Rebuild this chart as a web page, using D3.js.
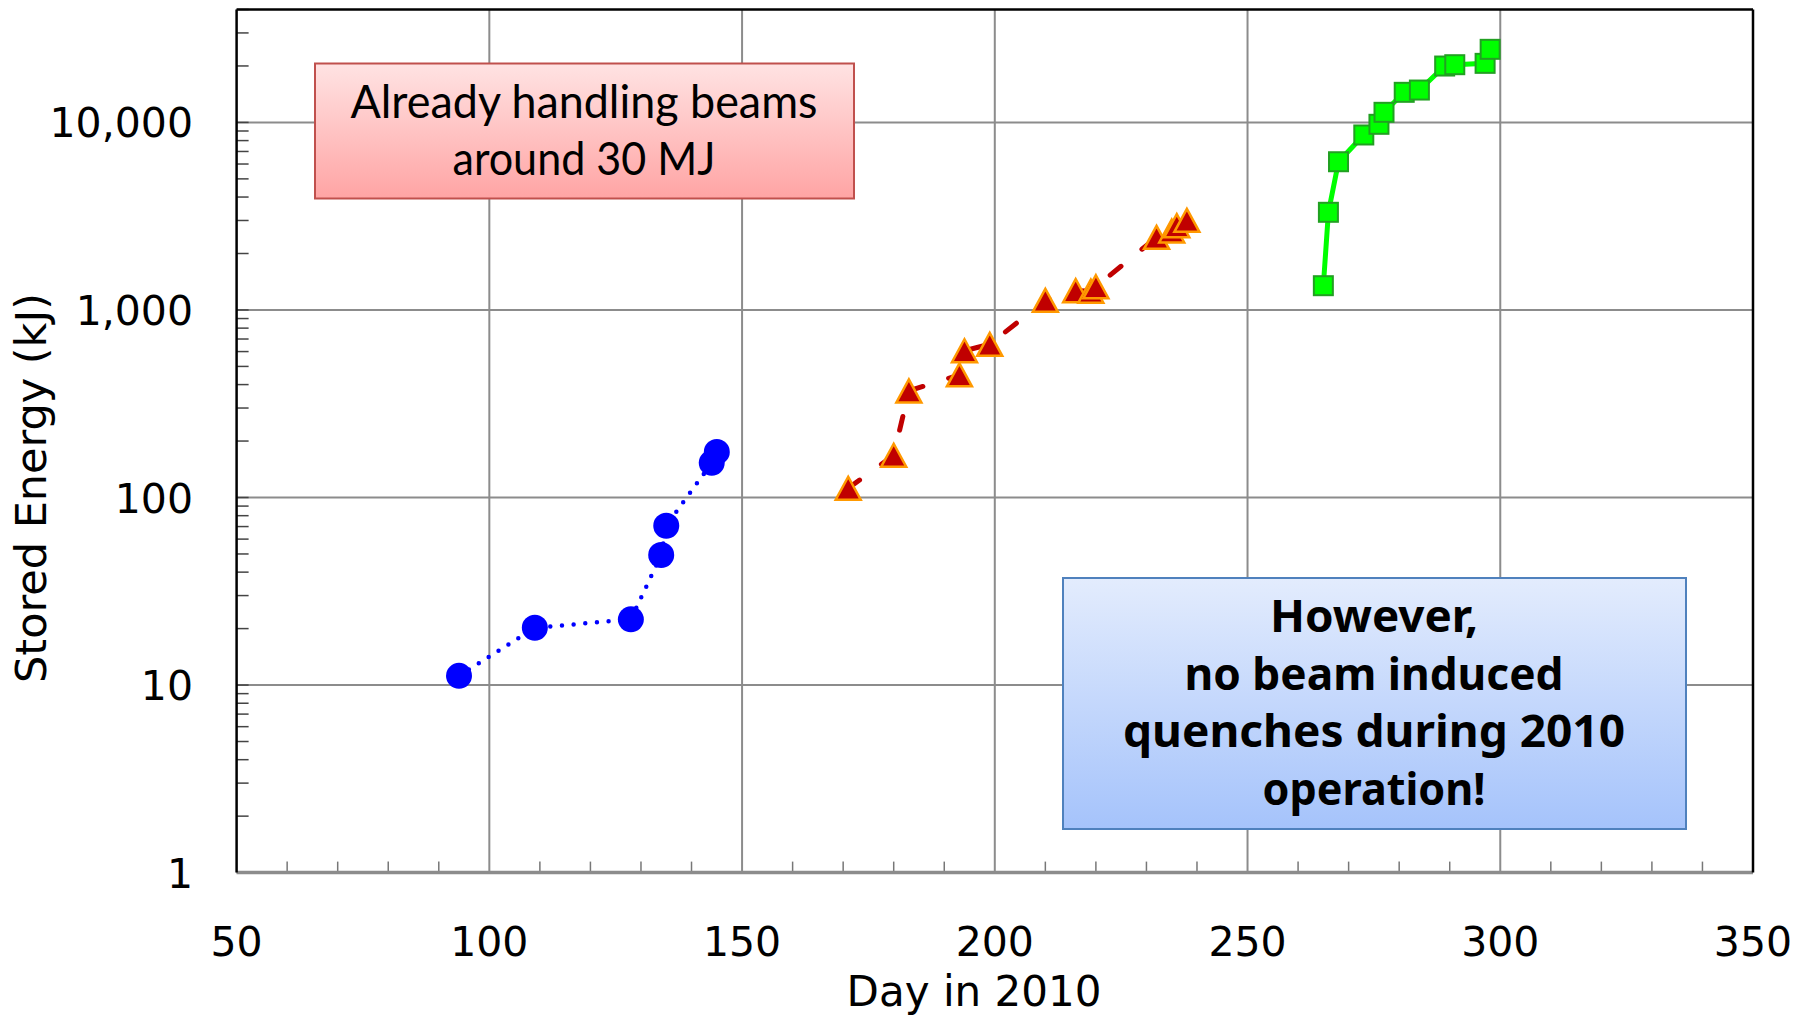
<!DOCTYPE html>
<html>
<head>
<meta charset="utf-8">
<script src="https://cdn.jsdelivr.net/npm/d3@7"></script>
<style>
  html, body { margin: 0; padding: 0; background: #fff; }
  svg { display: block; }
</style>
</head>
<body>
<svg id="chart" width="1810" height="1017"></svg>
<script>
// Stored beam energy per fill, by run period (day of year 2010, kJ)
const springDays   = [94, 109, 128, 134, 135, 144, 145];
const springEnergy = [11.2, 20.2, 22.4, 49.4, 70.7, 153, 175];

const summerDays   = [171, 180, 183, 193, 194, 199, 210, 216, 219, 220, 232, 235, 236, 238];
const summerEnergy = [112, 168, 370, 451, 606, 656, 1126, 1267, 1260, 1330, 2440, 2636, 2814, 3006];

const autumnDays   = [265, 266, 268, 273, 276, 277, 281, 284, 289, 291, 297, 298];
const autumnEnergy = [1347, 3317, 6170, 8570, 9770, 11320, 14470, 14880, 19980, 20310, 20650, 24530];

const xTicks = [50, 100, 150, 200, 250, 300, 350];
const yTicks = [1, 10, 100, 1000, 10000];
const yTickLabels = ["1", "10", "100", "1,000", "10,000"];

const noteTop = ["Already handling beams", "around 30 MJ"];
const noteBottom = ["However,", "no beam induced", "quenches during 2010", "operation!"];

const svg = d3.select("#chart");
const L = 236.6, R = 1753, T = 9.5, B = 872.6;

const x = d3.scaleLinear().domain([50, 350]).range([L, R]);
const y = d3.scaleLog().domain([1, 40000]).range([B, T]);

const defs = svg.append("defs");
const gRed = defs.append("linearGradient").attr("id", "gRed").attr("x1", 0).attr("y1", 0).attr("x2", 0).attr("y2", 1);
gRed.append("stop").attr("offset", "0%").attr("stop-color", "#ffe3e3");
gRed.append("stop").attr("offset", "100%").attr("stop-color", "#ffa4a4");
const gBlue = defs.append("linearGradient").attr("id", "gBlue").attr("x1", 0).attr("y1", 0).attr("x2", 0).attr("y2", 1);
gBlue.append("stop").attr("offset", "0%").attr("stop-color", "#e3ecfd");
gBlue.append("stop").attr("offset", "100%").attr("stop-color", "#a5c3fb");

// Grid
const grid = svg.append("g").attr("stroke", "#8c8c8c").attr("stroke-width", 2);
grid.selectAll("line.vx").data(xTicks.slice(1, -1)).join("line")
  .attr("x1", d => x(d)).attr("x2", d => x(d)).attr("y1", T).attr("y2", B);
grid.selectAll("line.hy").data(yTicks.slice(1)).join("line")
  .attr("y1", d => y(d)).attr("y2", d => y(d)).attr("x1", L).attr("x2", R);

// Minor ticks (inward)
const minorX = d3.range(60, 350, 10).filter(d => d % 50 !== 0);
svg.append("g").attr("stroke", "#777").attr("stroke-width", 1.5)
  .selectAll("line").data(minorX).join("line")
  .attr("x1", d => x(d)).attr("x2", d => x(d)).attr("y1", B).attr("y2", B - 11);

const minorY = [];
[1, 10, 100, 1000, 10000].forEach(dec => {
  for (let k = 2; k <= 9; k++) { const v = dec * k; if (v <= 40000) minorY.push(v); }
});
svg.append("g").attr("stroke", "#444").attr("stroke-width", 1.5)
  .selectAll("line").data(minorY.concat(yTicks)).join("line")
  .attr("y1", d => y(d)).attr("y2", d => y(d)).attr("x1", L).attr("x2", L + 12);

// Frame
svg.append("line").attr("x1", L).attr("x2", R).attr("y1", B).attr("y2", B)
  .attr("stroke", "#8c8c8c").attr("stroke-width", 3.5);
svg.append("line").attr("x1", L).attr("x2", L).attr("y1", T).attr("y2", B)
  .attr("stroke", "#000").attr("stroke-width", 2.5);
svg.append("line").attr("x1", L).attr("x2", R).attr("y1", T).attr("y2", T)
  .attr("stroke", "#000").attr("stroke-width", 2.5);
svg.append("line").attr("x1", R).attr("x2", R).attr("y1", T).attr("y2", B)
  .attr("stroke", "#000").attr("stroke-width", 2.5);

// Tick labels
svg.append("g").selectAll("text").data(xTicks).join("text")
  .attr("x", d => x(d)).attr("y", 956)
  .attr("text-anchor", "middle")
  .attr("font-family", "DejaVu Sans, Verdana, sans-serif").attr("font-size", 41)
  .attr("fill", "#000").text(d => d);

svg.append("g").selectAll("text").data(yTicks).join("text")
  .attr("x", 193).attr("y", d => y(d) + 15)
  .attr("text-anchor", "end")
  .attr("font-family", "DejaVu Sans, Verdana, sans-serif").attr("font-size", 41)
  .attr("fill", "#000").text((d, i) => yTickLabels[i]);

// Axis titles
svg.append("text").attr("x", 974).attr("y", 1006).attr("text-anchor", "middle")
  .attr("font-family", "DejaVu Sans, Verdana, sans-serif").attr("font-size", 42)
  .attr("fill", "#000").text("Day in 2010");
svg.append("text").attr("transform", "translate(46,488) rotate(-90)").attr("text-anchor", "middle")
  .attr("font-family", "DejaVu Sans, Verdana, sans-serif").attr("font-size", 43)
  .attr("fill", "#000").text("Stored Energy (kJ)");

// Annotation boxes
svg.append("rect").attr("x", 315).attr("y", 63.5).attr("width", 539).attr("height", 135)
  .attr("fill", "url(#gRed)").attr("stroke", "#c0504d").attr("stroke-width", 2);
const topBase = [117.5, 175];
const topLen = [467, 263];
svg.append("g").selectAll("text").data(noteTop).join("text")
  .attr("x", 584).attr("y", (d, i) => topBase[i]).attr("text-anchor", "middle")
  .attr("font-family", "Lato, 'Open Sans', sans-serif").attr("font-size", 46)
  .attr("textLength", (d, i) => topLen[i]).attr("lengthAdjust", "spacingAndGlyphs")
  .attr("fill", "#000").text(d => d);

svg.append("rect").attr("x", 1063).attr("y", 578).attr("width", 623).attr("height", 251)
  .attr("fill", "url(#gBlue)").attr("stroke", "#4f81bd").attr("stroke-width", 2);
const botBase = [631.5, 690, 746.5, 805];
const botLen = [208, 379, 502, 223];
svg.append("g").selectAll("text").data(noteBottom).join("text")
  .attr("x", 1374).attr("y", (d, i) => botBase[i]).attr("text-anchor", "middle")
  .attr("font-family", "'Comic Sans MS', 'Noto Sans', sans-serif").attr("font-weight", 700).attr("font-size", 45)
  .attr("textLength", (d, i) => botLen[i]).attr("lengthAdjust", "spacingAndGlyphs")
  .attr("fill", "#000").text(d => d);

const zip = (ds, vs) => ds.map((d, i) => ({ day: d, e: vs[i] }));
const line = d3.line().x(d => x(d.day)).y(d => y(d.e));

// Spring: dotted blue, circles
const spring = zip(springDays, springEnergy);
svg.append("path").datum(spring).attr("d", line)
  .attr("fill", "none").attr("stroke", "#0000ff").attr("stroke-width", 4.5)
  .attr("stroke-linecap", "round").attr("stroke-dasharray", "0 11.7");
svg.append("g").selectAll("circle").data(spring).join("circle")
  .attr("cx", d => x(d.day)).attr("cy", d => y(d.e)).attr("r", 13)
  .attr("fill", "#0000ff");

// Summer: dashed dark red, triangles
const summer = zip(summerDays, summerEnergy);
svg.append("path").datum(summer).attr("d", line)
  .attr("fill", "none").attr("stroke", "#c00000").attr("stroke-width", 5)
  .attr("stroke-linecap", "round").attr("stroke-dasharray", "14 27");
const tw = 25, th = 23;
svg.append("g").selectAll("path").data(summer).join("path")
  .attr("transform", d => `translate(${x(d.day)},${y(d.e)})`)
  .attr("d", `M0,${-th / 2}L${tw / 2},${th / 2}L${-tw / 2},${th / 2}Z`)
  .attr("fill", "#c00000").attr("stroke", "#ff9900").attr("stroke-width", 2.5)
  .attr("stroke-linejoin", "miter");

// Autumn: solid green, squares
const autumn = zip(autumnDays, autumnEnergy);
svg.append("path").datum(autumn).attr("d", line)
  .attr("fill", "none").attr("stroke", "#00ff00").attr("stroke-width", 5);
const sq = 19;
svg.append("g").selectAll("rect").data(autumn).join("rect")
  .attr("x", d => x(d.day) - sq / 2).attr("y", d => y(d.e) - sq / 2)
  .attr("width", sq).attr("height", sq)
  .attr("fill", "#00ff00").attr("stroke", "#22a022").attr("stroke-width", 2);
</script>
</body>
</html>
